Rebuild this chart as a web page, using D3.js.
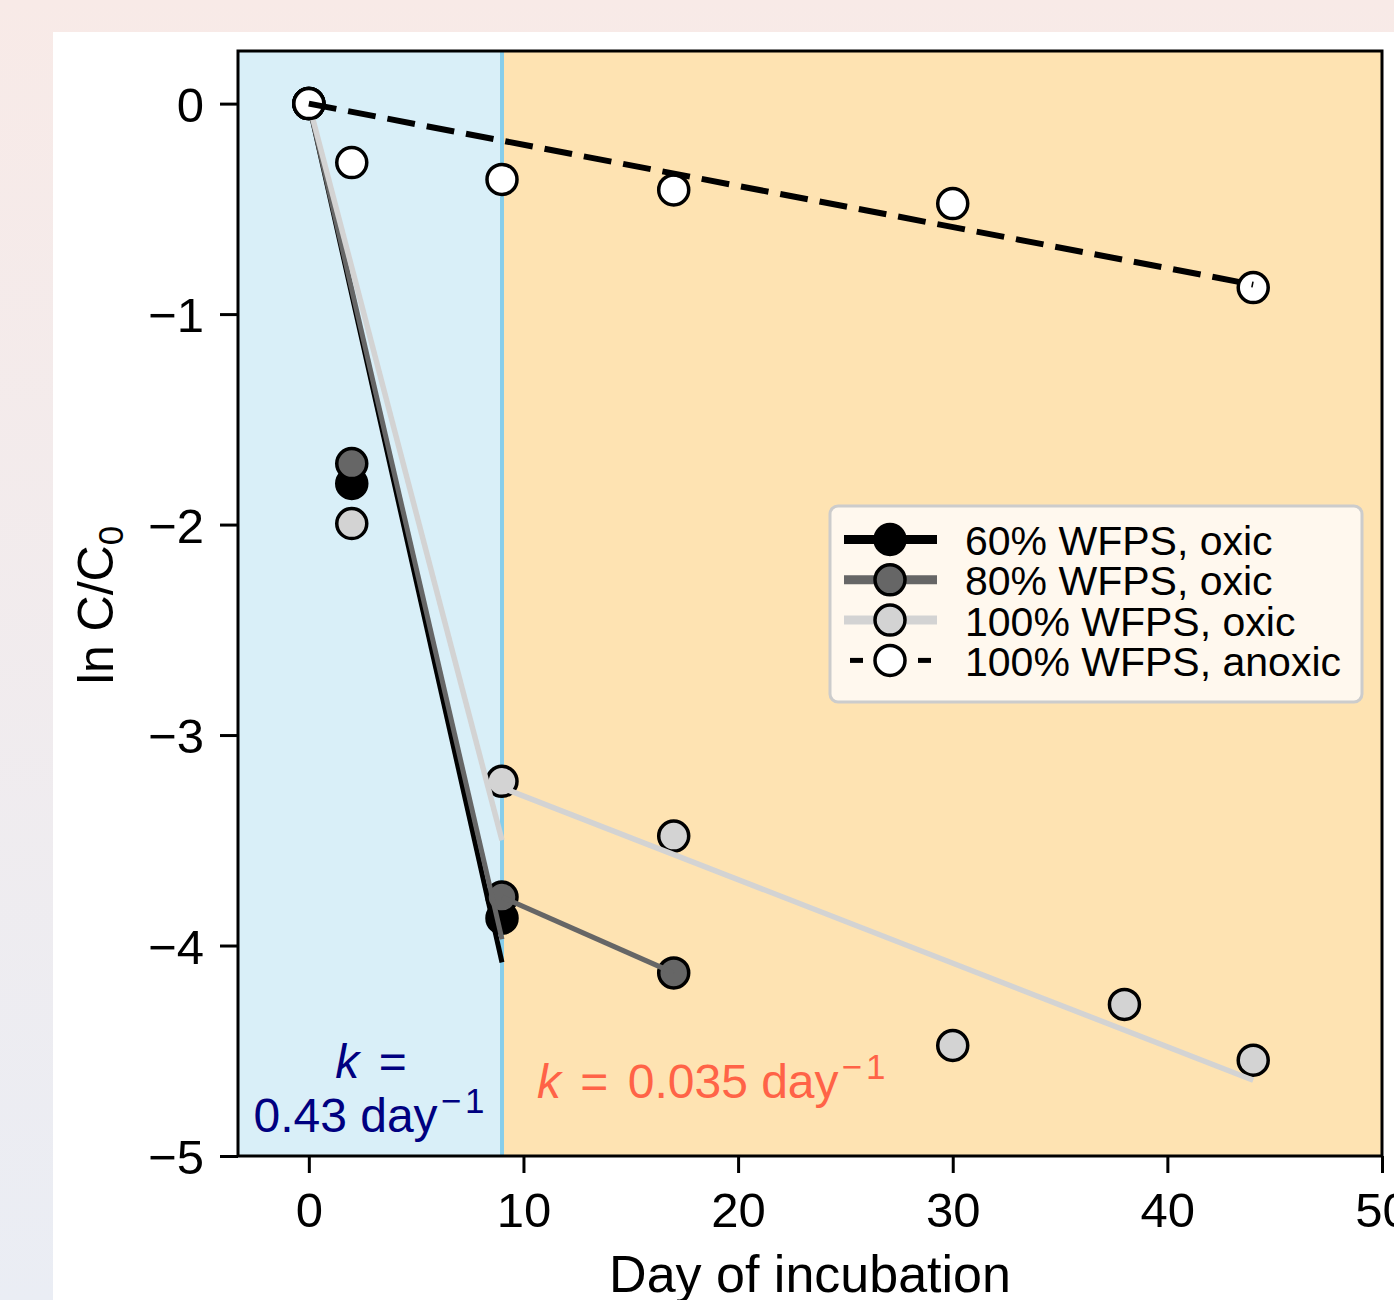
<!DOCTYPE html>
<html>
<head>
<meta charset="utf-8">
<script src="https://cdn.jsdelivr.net/npm/d3@7"></script>
<style>
  html, body { margin: 0; padding: 0; }
  body { width: 1394px; height: 1300px; overflow: hidden; }
  svg { display: block; }
</style>
</head>
<body>
<div id="chart"></div>
<script>
// ---------- data ----------
const xTicks = [0, 10, 20, 30, 40, 50];
const yTicks = [0, -1, -2, -3, -4, -5];

const days60 = [0, 2, 9];
const vals60 = [0, -1.805, -3.87];
const days80 = [0, 2, 9, 17];
const vals80 = [0, -1.71, -3.77, -4.13];
const days100 = [0, 2, 9, 17, 30, 38, 44];
const vals100 = [0, -1.995, -3.22, -3.48, -4.475, -4.28, -4.545];
const daysAnox = [0, 2, 9, 17, 30, 44];
const valsAnox = [0, -0.28, -0.36, -0.41, -0.475, -0.874];

// fitted segments [x0, y0, x1, y1]
const fit60 = [[0, 0, 9, -4.08]];
const fit80 = [[0, 0, 9, -3.97], [9, -3.77, 17, -4.13]];
const fit100 = [[0, 0, 9, -3.50], [9, -3.25, 44, -4.64]];
const fitAnox = [[0, 0, 44, -0.86]];

const seriesNames = ["60% WFPS, oxic", "80% WFPS, oxic", "100% WFPS, oxic", "100% WFPS, anoxic"];
const phaseBreak = 9;
const kFast = "0.43";
const kSlow = "0.035";

// ---------- layout ----------
const W = 1394, H = 1300;
const L = 238, R = 1382, T = 51, B = 1156;

const svg = d3.select("#chart").append("svg").attr("width", W).attr("height", H);
const defs = svg.append("defs");
const bg = defs.append("linearGradient").attr("id", "bg").attr("x1", 0).attr("y1", 0).attr("x2", 0).attr("y2", 1);
bg.append("stop").attr("offset", "0%").attr("stop-color", "#f8eae7");
bg.append("stop").attr("offset", "100%").attr("stop-color", "#eaedf4");
svg.append("rect").attr("width", W).attr("height", H).attr("fill", "url(#bg)");
svg.append("rect").attr("x", 53).attr("y", 32).attr("width", W - 53).attr("height", H - 32).attr("fill", "#ffffff");

const x = d3.scaleLinear().domain([-3.3, 50]).range([L, R]);
const y = d3.scaleLinear().domain([-5, 0.25]).range([B, T]);

const font = "'Liberation Sans', Arial, sans-serif";

// regions
svg.append("rect").attr("x", L).attr("y", T).attr("width", x(phaseBreak) - L).attr("height", B - T).attr("fill", "#d9eff8");
svg.append("rect").attr("x", x(phaseBreak)).attr("y", T).attr("width", R - x(phaseBreak)).attr("height", B - T).attr("fill", "#fee3b2");
svg.append("line").attr("x1", x(phaseBreak)).attr("x2", x(phaseBreak)).attr("y1", T).attr("y2", B)
  .attr("stroke", "#87ceeb").attr("stroke-width", 4);

const plot = svg.append("g");

function drawSeries(days, vals, fill, fits, lineColor, lineWidth, dash) {
  plot.append("g").selectAll("circle").data(days).join("circle")
    .attr("cx", (d) => x(d)).attr("cy", (d, i) => y(vals[i])).attr("r", 15)
    .attr("fill", fill).attr("stroke", "#000").attr("stroke-width", 3.5);
  plot.append("g").selectAll("line").data(fits).join("line")
    .attr("x1", (d) => x(d[0])).attr("y1", (d) => y(d[1]))
    .attr("x2", (d) => x(d[2])).attr("y2", (d) => y(d[3]))
    .attr("stroke", lineColor).attr("stroke-width", lineWidth)
    .attr("stroke-dasharray", dash || null);
}

drawSeries(days60, vals60, "#000000", fit60, "#000000", 5);
drawSeries(days80, vals80, "#666666", fit80, "#666666", 5);
drawSeries(days100, vals100, "#d3d3d3", fit100, "#d3d3d3", 5.5);
drawSeries(daysAnox, valsAnox, "#ffffff", fitAnox, "#000000", 6, "28,12");

// frame
svg.append("rect").attr("x", L).attr("y", T).attr("width", R - L).attr("height", B - T)
  .attr("fill", "none").attr("stroke", "#000").attr("stroke-width", 3);

// axes
const xAxis = svg.append("g").attr("transform", `translate(0,${B})`)
  .call(d3.axisBottom(x).tickValues(xTicks).tickSize(17).tickPadding(19).tickFormat(d3.format("d")));
const yAxis = svg.append("g").attr("transform", `translate(${L},0)`)
  .call(d3.axisLeft(y).tickValues(yTicks).tickSize(18).tickPadding(16)
    .tickFormat((d) => d === 0 ? "0" : "\u2212" + Math.abs(d)));
[xAxis, yAxis].forEach((a) => {
  a.select(".domain").remove();
  a.selectAll(".tick line").attr("stroke", "#000").attr("stroke-width", 3);
  a.selectAll(".tick text").attr("fill", "#000").style("font-family", font).style("font-size", "49px");
});
xAxis.selectAll(".tick text").attr("dy", "0.71em");
yAxis.selectAll(".tick text").attr("dy", "0.36em");

// axis labels
svg.append("text").attr("x", 810).attr("y", 1292).attr("text-anchor", "middle")
  .style("font-family", font).style("font-size", "52px").text("Day of incubation");
const yl = svg.append("text").attr("transform", "translate(113,605) rotate(-90)").attr("text-anchor", "middle")
  .style("font-family", font).style("font-size", "50px");
yl.append("tspan").text("ln C/C");
yl.append("tspan").attr("dy", 10).style("font-size", "35px").text("0");

// k annotations
const t1 = svg.append("text").attr("x", 371).attr("y", 1078).attr("text-anchor", "middle")
  .style("font-family", font).style("font-size", "48px").attr("fill", "#000080");
t1.append("tspan").style("font-style", "italic").text("k");
t1.append("tspan").attr("dx", 6).text(" =");
const t2 = svg.append("text").attr("x", 371).attr("y", 1132).attr("text-anchor", "middle")
  .style("font-family", font).style("font-size", "48px").attr("fill", "#000080");
t2.append("tspan").text(kFast + " day");
t2.append("tspan").attr("dy", -19).attr("dx", 3).style("font-size", "35px").style("letter-spacing", "4px").text("\u22121");

const t3 = svg.append("text").attr("x", 537).attr("y", 1098).attr("text-anchor", "start")
  .style("font-family", font).style("font-size", "48px").attr("fill", "#ff6347");
t3.append("tspan").style("font-style", "italic").text("k");
t3.append("tspan").attr("dx", 6).text(" = ");
t3.append("tspan").attr("dx", 6).text(kSlow + " day");
t3.append("tspan").attr("dy", -19).attr("dx", 3).style("font-size", "35px").style("letter-spacing", "4px").text("\u22121");

// legend
const lg = svg.append("g");
lg.append("rect").attr("x", 830).attr("y", 506).attr("width", 532).attr("height", 196).attr("rx", 8)
  .attr("fill", "#fff8ee").attr("stroke", "#cccccc").attr("stroke-width", 3);
const legendStyles = [
  { fill: "#000000", line: "#000000", w: 9, dash: false },
  { fill: "#666666", line: "#666666", w: 9, dash: false },
  { fill: "#d3d3d3", line: "#d3d3d3", w: 9, dash: false },
  { fill: "#ffffff", line: "#000000", w: 5, dash: true }
];
seriesNames.forEach((name, i) => {
  const cy = 539.5 + i * 40.3;
  const s = legendStyles[i];
  if (s.dash) {
    lg.append("line").attr("x1", 850).attr("x2", 863).attr("y1", cy).attr("y2", cy).attr("stroke", "#000").attr("stroke-width", s.w);
    lg.append("line").attr("x1", 918).attr("x2", 931).attr("y1", cy).attr("y2", cy).attr("stroke", "#000").attr("stroke-width", s.w);
  } else {
    lg.append("line").attr("x1", 844).attr("x2", 937).attr("y1", cy).attr("y2", cy).attr("stroke", s.line).attr("stroke-width", s.w);
  }
  lg.append("circle").attr("cx", 890).attr("cy", cy).attr("r", 15).attr("fill", s.fill).attr("stroke", "#000").attr("stroke-width", 3.5);
  lg.append("text").attr("x", 965).attr("y", cy).attr("dy", "0.38em")
    .style("font-family", font).style("font-size", "41px").text(name);
});
</script>
</body>
</html>
